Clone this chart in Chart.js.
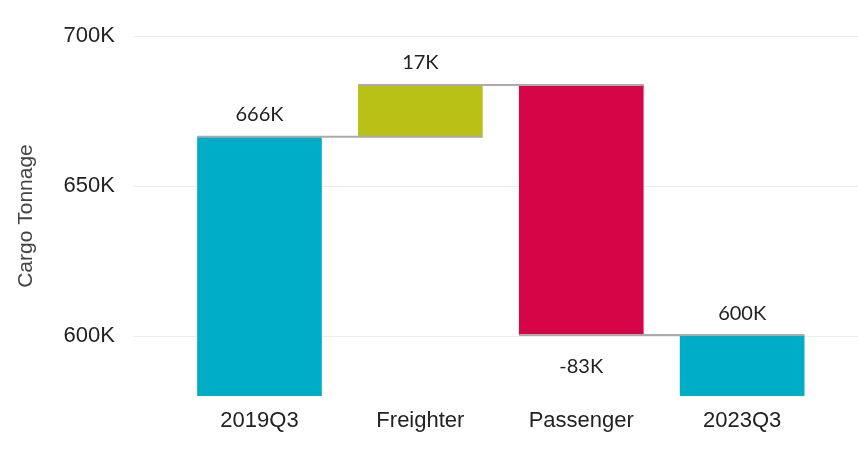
<!DOCTYPE html>
<html>
<head>
<meta charset="utf-8">
<script src="https://cdn.jsdelivr.net/npm/chart.js@4.4.0/dist/chart.umd.min.js"></script>
<style>
  html, body { margin: 0; padding: 0; background: #fff; }
  #wrap { width: 858px; height: 449px; }
</style>
</head>
<body>
<div id="wrap"><canvas id="waterfall" width="858" height="449"></canvas></div>
<script>
// Waterfall data: start total, changes, end total
const categories = ['2019Q3', 'Freighter', 'Passenger', '2023Q3'];
const stepValues = [666400, 17300, -83400, 600300];
const isTotal = [true, false, false, true];
const barColors = ['#00adc6', '#bac116', '#d50547', '#00adc6'];
const yTicks = [600000, 650000, 700000];
const axisMin = 580000;
const axisMax = 700000;

// build floating [low, high] ranges from the step values
let running = 0;
const ranges = [];
const levels = [];
for (let i = 0; i < stepValues.length; i++) {
    if (isTotal[i]) {
        ranges.push([axisMin, stepValues[i]]);
        running = stepValues[i];
    } else {
        const start = running;
        running += stepValues[i];
        ranges.push([Math.min(start, running), Math.max(start, running)]);
    }
    levels.push(running);
}

function fmtK(v) {
    return Math.round(v / 1000) + 'K';
}

// grey connector lines between neighbouring bars
const connectorPlugin = {
    id: 'connectors',
    afterDatasetsDraw(chart) {
        const ctx = chart.ctx;
        const bars = chart.getDatasetMeta(0).data;
        const yScale = chart.scales.y;
        ctx.save();
        ctx.strokeStyle = '#ababab';
        ctx.lineWidth = 2;
        for (let i = 0; i < bars.length - 1; i++) {
            const y = yScale.getPixelForValue(levels[i]);
            const x1 = bars[i].x - bars[i].width / 2;
            const x2 = bars[i + 1].x + bars[i + 1].width / 2;
            ctx.beginPath();
            ctx.moveTo(x1, y);
            ctx.lineTo(x2, y);
            ctx.stroke();
        }
        ctx.restore();
    }
};

// value labels above / below bars
const labelPlugin = {
    id: 'valueLabels',
    afterDatasetsDraw(chart) {
        const ctx = chart.ctx;
        const bars = chart.getDatasetMeta(0).data;
        const yScale = chart.scales.y;
        ctx.save();
        ctx.font = '20px Lato, "Noto Sans", sans-serif';
        ctx.fillStyle = '#222';
        ctx.textAlign = 'center';
        ctx.textBaseline = 'middle';
        bars.forEach((bar, i) => {
            const v = stepValues[i];
            if (v >= 0) {
                const top = yScale.getPixelForValue(ranges[i][1]);
                ctx.fillText(fmtK(v), bar.x, top - 22);
            } else {
                const bottom = yScale.getPixelForValue(ranges[i][0]);
                ctx.fillText(fmtK(v), bar.x, bottom + 31);
            }
        });
        ctx.restore();
    }
};

new Chart(document.getElementById('waterfall'), {
    type: 'bar',
    data: {
        datasets: [{
            data: ranges.map((r, i) => ({ x: i, y: r })),
            backgroundColor: barColors,
            borderWidth: 0,
            barThickness: 124
        }]
    },
    options: {
        responsive: false,
        animation: false,
        layout: { padding: { top: 36, right: 0, left: 0, bottom: 0 } },
        plugins: {
            legend: { display: false },
            tooltip: { enabled: false }
        },
        scales: {
            x: {
                type: 'linear',
                min: -0.78,
                max: 3.72,
                offset: false,
                grid: { display: false, drawTicks: false },
                border: { display: false },
                afterBuildTicks: (scale) => {
                    scale.ticks = categories.map((c, i) => ({ value: i }));
                },
                afterFit: (scale) => { scale.height = 53; },
                ticks: {
                    padding: 12,
                    color: '#222',
                    font: { family: '"Liberation Sans", Arial, sans-serif', size: 22 },
                    callback: (v) => categories[v]
                }
            },
            y: {
                min: axisMin,
                max: axisMax,
                grid: { color: '#ececec', lineWidth: 1, drawTicks: false },
                border: { display: false },
                afterBuildTicks: (scale) => {
                    scale.ticks = yTicks.map(v => ({ value: v }));
                },
                afterFit: (scale) => { scale.width = 134; },
                ticks: {
                    padding: 19,
                    color: '#222',
                    font: { family: '"Liberation Sans", Arial, sans-serif', size: 22 },
                    callback: (v) => fmtK(v)
                },
                title: {
                    display: true,
                    text: 'Cargo Tonnage',
                    color: '#444',
                    padding: { top: 14, bottom: 0 },
                    font: { family: '"Liberation Sans", Arial, sans-serif', size: 21 }
                }
            }
        }
    },
    plugins: [connectorPlugin, labelPlugin]
});
</script>
</body>
</html>
